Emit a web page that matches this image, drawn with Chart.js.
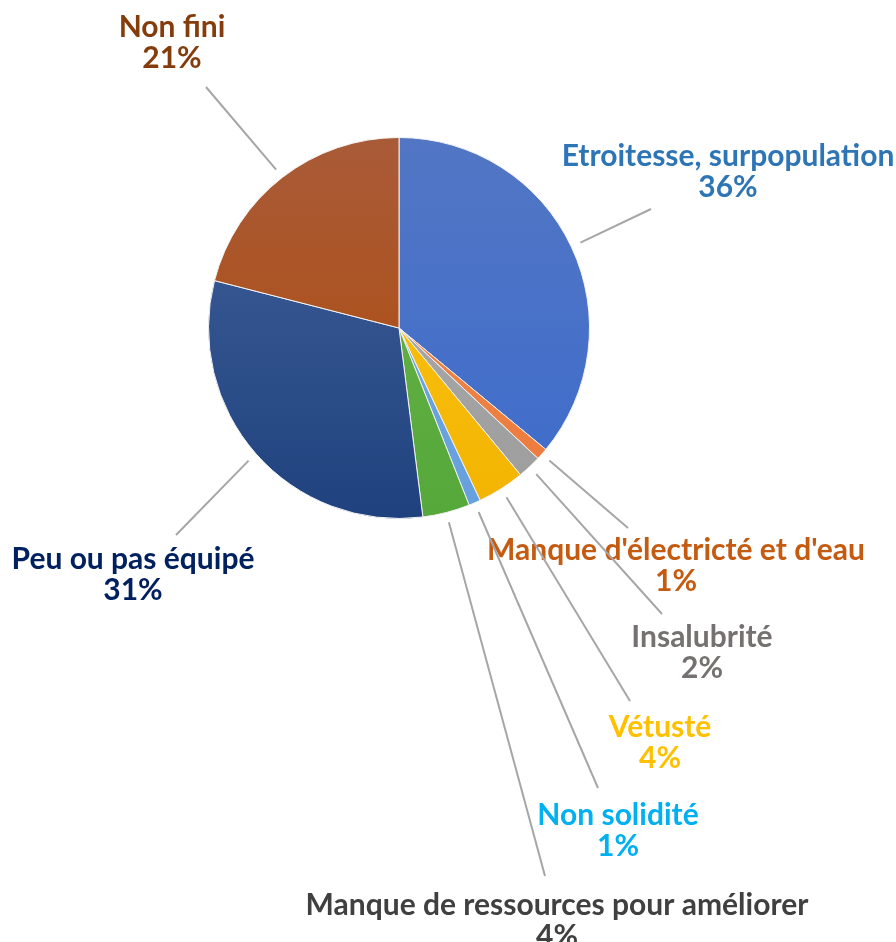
<!DOCTYPE html>
<html lang="fr">
<head>
<meta charset="utf-8">
<title>Problèmes de logement</title>
<script src="https://cdn.jsdelivr.net/npm/chart.js@4/dist/chart.umd.min.js"></script>
<style>
    html, body { margin: 0; padding: 0; background: #ffffff; }
    #wrap { width: 896px; height: 942px; position: relative; }
</style>
</head>
<body>
<div id="wrap"><canvas id="myChart" width="896" height="942"></canvas></div>
<script>
// Categories and their shares (%)
const categories = [
    'Etroitesse, surpopulation',
    "Manque d'électricté et d'eau",
    'Insalubrité',
    'Vétusté',
    'Non solidité',
    'Manque de ressources pour améliorer',
    'Peu ou pas équipé',
    'Non fini'
];
const shares = [36, 1, 2, 4, 1, 4, 31, 21];

// Slice fill: lighter shade at the top, base shade at the bottom
const sliceTop    = ['#5276c4', '#f08c55', '#b0b0b0', '#ffc51a', '#77a8dc', '#6cb44a', '#42619b', '#a95b38'];
const sliceBottom = ['#3d6ccc', '#ec7a3a', '#9c9c9c', '#f2b400', '#66a0de', '#55a83a', '#1f427e', '#b04a08'];
const labelColors = ['#2e75b6', '#c55a11', '#767171', '#ffc000', '#00b0f0', '#404040', '#002060', '#843c0c'];

// Where each label sits (centre x, first line y) and where its leader line stops
const labelPos = [
    { x: 728, y: 156, lx: 651, ly: 209 },
    { x: 676, y: 550, lx: 628, ly: 528 },
    { x: 702, y: 637, lx: 662, ly: 614 },
    { x: 660, y: 727, lx: 630, ly: 701 },
    { x: 618, y: 815, lx: 598, ly: 788 },
    { x: 557, y: 905, lx: 545, ly: 876 },
    { x: 133, y: 559, lx: 176, ly: 535 },
    { x: 172, y: 27,  lx: 206, ly: 87 }
];

const LABEL_FONT = 'bold 30px Lato, "Open Sans", sans-serif';
const LINE_GAP = 31;

const calloutPlugin = {
    id: 'callouts',
    afterDatasetsDraw(chart) {
        const ctx = chart.ctx;
        const arcs = chart.getDatasetMeta(0).data;
        ctx.save();
        arcs.forEach((arc, i) => {
            const p = arc.getProps(['x', 'y', 'startAngle', 'endAngle', 'outerRadius'], true);
            const mid = (p.startAngle + p.endAngle) / 2;
            const r = p.outerRadius + 10;
            const pos = labelPos[i];

            // leader line
            ctx.strokeStyle = '#a6a6a6';
            ctx.lineWidth = 2;
            ctx.beginPath();
            ctx.moveTo(p.x + Math.cos(mid) * r, p.y + Math.sin(mid) * r);
            ctx.lineTo(pos.lx, pos.ly);
            ctx.stroke();

            // name + percentage
            ctx.font = LABEL_FONT;
            ctx.fillStyle = labelColors[i];
            ctx.textAlign = 'center';
            ctx.textBaseline = 'middle';
            ctx.fillText(categories[i], pos.x, pos.y);
            ctx.fillText(shares[i] + '%', pos.x, pos.y + LINE_GAP);
        });
        ctx.restore();
    }
};

const ctx = document.getElementById('myChart').getContext('2d');
new Chart(ctx, {
    type: 'pie',
    data: {
        labels: categories,
        datasets: [{
            data: shares,
            backgroundColor: (c) => {
                const area = c.chart.chartArea;
                if (!area) return sliceBottom[c.dataIndex];
                const g = c.chart.ctx.createLinearGradient(0, area.top, 0, area.bottom);
                g.addColorStop(0, sliceTop[c.dataIndex]);
                g.addColorStop(1, sliceBottom[c.dataIndex]);
                return g;
            },
            borderColor: '#f2f2f2',
            borderWidth: 1
        }]
    },
    options: {
        responsive: false,
        animation: false,
        layout: {
            padding: { left: 208, right: 306, top: 137, bottom: 423 }
        },
        plugins: {
            legend: { display: false },
            tooltip: { enabled: false }
        }
    },
    plugins: [calloutPlugin]
});
</script>
</body>
</html>
